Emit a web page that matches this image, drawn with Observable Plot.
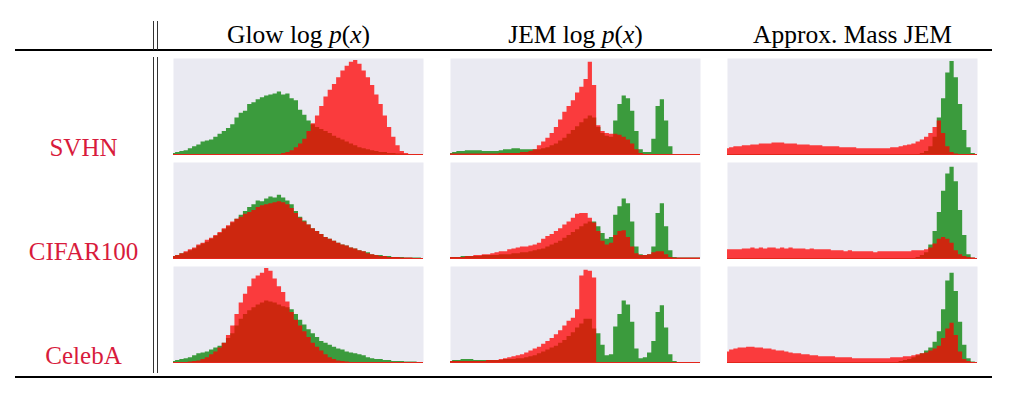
<!DOCTYPE html>
<html>
<head>
<meta charset="utf-8">
<script src="https://cdn.jsdelivr.net/npm/d3@7"></script>
<script src="https://cdn.jsdelivr.net/npm/@observablehq/plot@0.6"></script>
<style>
html, body { margin: 0; padding: 0; background: #fff; }
#chart { width: 1010px; height: 394px; }
</style>
</head>
<body>
<div id="chart"></div>
<script>
// Row labels (out-of-distribution datasets) and column titles
const rows = ["SVHN", "CIFAR100", "CelebA"];
const cols = ["glow", "jem", "mass"];
const colTitles = {glow: "Glow log p(x)", jem: "JEM log p(x)", mass: "Approx. Mass JEM"};

// Histogram heights, 60 bins per panel (relative frequency, % of panel max)
// "In" = in-distribution (green), "Out" = out-of-distribution (red)
const glowSvhnIn  = [1,2,3,4,6,8,10,13,14,15, 18,21,24,27,31,38,43,45,52,54, 57,59,61,62,63,65,62,63,58,56, 46,41,35,31,28,26,24,22,19,17, 15,13,11,9,7,6,5,4,3,2, 2,1,1,0.5,0.5,0,0,0,0,0];
const glowSvhnOut = [0,0,0,0,0,0,0,0,0,0, 0,0,0,0,0,0,0,0,0,0, 0,0,0,0,0,0,1,2,4,7, 11,16,24,32,40,50,60,67,73,80, 87,92,96,98,94,87,80,72,62,52, 40,28,18,9,3,1,0,0,0,0];
const jemSvhnIn   = [1,2,3,3,4,4,4,4,3,3, 3,3,4,5,5,6,6,5,5,5, 5,5,6,7,9,11,14,17,21,25, 29,33,37,40,38,28,22,19,18,35, 52,61,58,45,24,5,2,2,16,50, 57,35,8,0,0,0,0,0,0,0];
const jemSvhnOut  = [0.5,0.5,0.5,0.5,0.5,0.5,0.5,0.5,0.5,0.5, 0.5,0.5,1,1,1,1,1,2,2,3, 5,9,13,17,22,28,36,44,50,56, 64,70,78,96,72,30,24,22,21,21, 20,18,15,11,5,1,0,0,0,0, 0,0,0,0,0,0,0,0,0,0];
const massSvhnIn  = [0,0,0,0,0,0,0,0,0,0, 0,0,0,0,0,0,0,0,0,0, 0,0,0,0,0,0,0,0,0,0, 0,0,0,0,0,0,0,0,0,0, 0,0,0,0,0,0,1,3,8,18, 38,58,85,97,80,52,25,7,1,0];
const massSvhnOut = [6,7,8,8,9,9,10,10,11,11, 11,12,12,12,11,11,11,10,10,10, 9,9,9,8,8,8,8,7,7,7, 7,6,6,6,6,6,6,6,6,7, 7,8,9,10,11,13,15,18,22,28, 35,22,8,2,0.5,0,0,0,0,0];

const glowCifarIn  = [2,3,5,6,8,10,13,15,17,20, 23,26,30,33,37,41,45,49,53,56, 60,59,62,64,63,66,63,60,56,49, 43,39,35,31,28,25,22,20,18,16, 14,13,11,10,8,7,6,4,3,3, 2,2,1,1,1,0.5,0.5,0.5,0.5,0];
const glowCifarOut = [2,3,5,7,9,11,14,16,19,21, 24,27,31,34,38,41,43,46,48,50, 53,55,56,57,58,59,58,56,52,47, 42,38,35,31,28,25,22,20,18,16, 14,13,11,10,8,7,5,4,3,2, 2,1,1,1,0.5,0.5,0.5,0,0,0];
const jemCifarIn   = [1,1,1,2,2,2,2,2,3,3, 3,3,4,4,4,5,5,6,6,7, 8,9,10,12,14,16,18,21,24,27, 30,33,36,38,38,33,26,20,22,45, 54,62,57,38,12,4,3,4,12,47, 57,33,8,1,0.5,0.5,0.5,0.5,0.5,0.5];
const jemCifarOut  = [1,1,1,1,2,2,3,3,4,4, 5,6,7,7,9,10,11,12,12,13, 14,16,20,23,25,28,31,35,38,42, 46,47,47,42,37,28,18,14,16,24, 28,29,22,12,5,3,3,4,6,7, 7,4,1,0.5,0.5,0.5,0.5,0.5,0.5,0.5];
const massCifarIn  = [0,0,0,0,0,0,0,0,0,0, 0,0,0,0,0,0,0,0,0,0, 0,0,0,0,0,0,0,0,0,0, 0,0,0,0,0,0,0,0,0,0, 0,0,0,0,0,1,3,6,14,28, 48,70,88,95,80,50,24,4,0.5,0];
const massCifarOut = [9,9,9,9,10,10,11,10,11,10, 11,11,10,11,10,11,10,10,10,9, 10,9,9,9,9,8,8,8,7,8, 7,7,7,7,7,6,7,7,7,7, 7,7,7,7,8,8,8,9,11,15, 20,22,20,16,8,4,2,1,0.5,0];

const glowCelebaIn  = [1,2,3,4,5,7,9,10,11,13, 15,17,20,25,30,38,45,50,54,57, 60,62,64,63,62,60,58,57,55,50, 44,39,34,30,26,22,20,18,16,14, 13,11,10,9,8,7,5,4,3,3, 2,2,1,1,1,0.5,0.5,0.5,0,0];
const glowCelebaOut = [0,0,0,0,0.5,1,1.5,3,5,8, 11,15,20,28,38,50,62,71,79,87, 90,93,98,95,87,79,73,63,52,44, 38,32,26,20,16,12,8,5,3,1.5, 1,0.5,0,0,0,0,0,0,0,0, 0,0,0,0,0,0,0,0,0,0];
const jemCelebaIn   = [1,2,2,3,3,3,2,2,2,2, 2,2,2,3,3,3,4,4,5,6, 7,9,11,13,15,17,20,23,27,31, 36,40,45,45,35,30,18,7,8,37, 50,64,60,42,14,4,5,10,22,52, 59,36,8,1,0,0,0,0,0,0];
const jemCelebaOut  = [1,1,1,1,1,1,1,1,1,2, 2,2,3,4,5,6,7,8,10,12, 14,16,19,22,25,29,33,38,43,46, 55,90,96,95,88,0,0,0,0,0, 0,0,0,0,0,0,0,0,0,0, 0,0,0,0,0,0,0,0,0,0];
const massCelebaIn  = [0,0,0,0,0,0,0,0,0,0, 0,0,0,0,0,0,0,0,0,0, 0,0,0,0,0,0,0,0,0,0, 0,0,0,0,0,0,0,0,0,0, 0,1,2,3,5,7,9,12,15,21, 32,55,85,93,74,42,18,4,0.5,0];
const massCelebaOut = [11,13,14,15,15,16,16,15,15,14, 14,13,12,12,11,10,9,9,8,8, 7,7,6,6,6,6,5,5,5,5, 4,4,4,4,4,4,4,4,4,5, 5,5,6,6,7,8,9,10,12,14, 17,25,35,41,28,11,3,1,0,0];

const panels = [
  {row: "SVHN", col: "glow", inVals: glowSvhnIn, outVals: glowSvhnOut},
  {row: "SVHN", col: "jem", inVals: jemSvhnIn, outVals: jemSvhnOut},
  {row: "SVHN", col: "mass", inVals: massSvhnIn, outVals: massSvhnOut},
  {row: "CIFAR100", col: "glow", inVals: glowCifarIn, outVals: glowCifarOut},
  {row: "CIFAR100", col: "jem", inVals: jemCifarIn, outVals: jemCifarOut},
  {row: "CIFAR100", col: "mass", inVals: massCifarIn, outVals: massCifarOut},
  {row: "CelebA", col: "glow", inVals: glowCelebaIn, outVals: glowCelebaOut},
  {row: "CelebA", col: "jem", inVals: jemCelebaIn, outVals: jemCelebaOut},
  {row: "CelebA", col: "mass", inVals: massCelebaIn, outVals: massCelebaOut}
];

const inData = [], outData = [];
for (const p of panels) {
  p.inVals.forEach((v, i) => inData.push({row: p.row, col: p.col, bin: i, value: v}));
  p.outVals.forEach((v, i) => outData.push({row: p.row, col: p.col, bin: i, value: v}));
}

const serif = "'Liberation Serif', 'DejaVu Serif', serif";

const plot = Plot.plot({
  width: 1010,
  height: 394,
  marginLeft: 173,
  marginRight: 33,
  marginTop: 57,
  marginBottom: 30,
  style: {background: "transparent", fontFamily: serif, color: "#000"},
  x: {domain: [0, 59], axis: null},
  y: {domain: [0, 100], axis: null},
  fx: {domain: cols, paddingInner: 0.0975, paddingOuter: 0, axis: null},
  fy: {domain: rows, paddingInner: 0.076, paddingOuter: 0, axis: null},
  marks: [
    Plot.frame({fill: "#eaeaf2", stroke: "none"}),
    Plot.areaY(inData, {x: "bin", y: "value", fx: "col", fy: "row", curve: "step", fill: "#008000", fillOpacity: 0.75}),
    Plot.areaY(outData, {x: "bin", y: "value", fx: "col", fy: "row", curve: "step", fill: "#ff0000", fillOpacity: 0.75}),
    Plot.ruleY([0], {stroke: "#e3261b", strokeWidth: 1.2}),
    Plot.axisFx({anchor: "top", tickSize: 0, tickPadding: 16, label: null, fontSize: 25.5, fontFamily: serif, tickFormat: c => colTitles[c]}),
    Plot.axisFy({anchor: "left", tickSize: 0, tickPadding: 0, label: null, fontSize: 25, fontFamily: serif, color: "#d81b3c", textAnchor: "middle", dx: -90, dy: 41})
  ]
});

document.getElementById("chart").appendChild(plot);

// Italic math for "log p(x)" in column titles
const svg = d3.select(plot);
svg.selectAll('g[aria-label="fx-axis tick label"] text').each(function () {
  const t = this.textContent;
  const m = t.match(/^(.*log )p\(x\)$/);
  if (!m) return;
  const el = d3.select(this);
  el.text(null);
  el.append("tspan").text(m[1]);
  el.append("tspan").attr("font-style", "italic").text("p");
  el.append("tspan").text("(");
  el.append("tspan").attr("font-style", "italic").text("x");
  el.append("tspan").text(")");
});

// Table rules
const rules = svg.append("g").attr("aria-label", "table rules").attr("fill", "none");
rules.append("line").attr("x1", 15).attr("x2", 992).attr("y1", 50).attr("y2", 50).attr("stroke", "#000").attr("stroke-width", 2.2);
rules.append("line").attr("x1", 15).attr("x2", 992).attr("y1", 377).attr("y2", 377).attr("stroke", "#000").attr("stroke-width", 2.2);
for (const x of [153.5, 157.5]) {
  rules.append("line").attr("x1", x).attr("x2", x).attr("y1", 21).attr("y2", 50).attr("stroke", "#333").attr("stroke-width", 1);
  rules.append("line").attr("x1", x).attr("x2", x).attr("y1", 57).attr("y2", 373).attr("stroke", "#333").attr("stroke-width", 1);
}
</script>
</body>
</html>
